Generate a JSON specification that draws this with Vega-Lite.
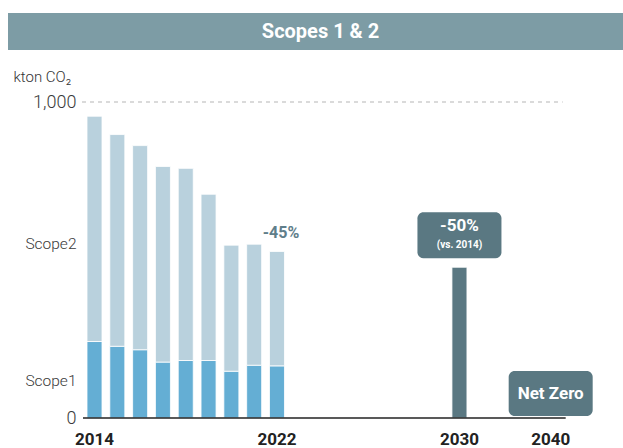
{
  "$schema": "https://vega.github.io/schema/vega-lite/v6.json",
  "background": "white",
  "padding": {"left": 8, "top": 13, "right": 0, "bottom": 0},
  "config": {"view": {"stroke": null}, "font": "Roboto"},
  "spacing": 19,
  "datasets": {
    "bars": [
      {"year": "2014", "scope": "Scope1", "value": 242},
      {"year": "2014", "scope": "Scope2", "value": 713},
      {"year": "2015", "scope": "Scope1", "value": 227},
      {"year": "2015", "scope": "Scope2", "value": 670},
      {"year": "2016", "scope": "Scope1", "value": 216},
      {"year": "2016", "scope": "Scope2", "value": 646},
      {"year": "2017", "scope": "Scope1", "value": 177},
      {"year": "2017", "scope": "Scope2", "value": 619},
      {"year": "2018", "scope": "Scope1", "value": 182},
      {"year": "2018", "scope": "Scope2", "value": 608},
      {"year": "2019", "scope": "Scope1", "value": 182},
      {"year": "2019", "scope": "Scope2", "value": 526},
      {"year": "2020", "scope": "Scope1", "value": 148},
      {"year": "2020", "scope": "Scope2", "value": 399},
      {"year": "2021", "scope": "Scope1", "value": 167},
      {"year": "2021", "scope": "Scope2", "value": 383},
      {"year": "2022", "scope": "Scope1", "value": 165},
      {"year": "2022", "scope": "Scope2", "value": 362},
      {"year": "2030", "scope": "Target", "value": 477},
      {"year": "2040", "scope": "Target", "value": 0}
    ],
    "notes": [
      {"year": "2022", "total": 527, "label": "-45%"},
      {"year": "2030", "total": 477, "label": "-50%", "sub": "(vs. 2014)"},
      {"year": "2040", "total": 0, "label": "Net Zero"}
    ],
    "lines": [
      {"from": "2014", "to": "2040", "level": 1000, "kind": "max"},
      {"from": "2014", "to": "2040", "level": 0, "kind": "base"}
    ]
  },
  "vconcat": [
    {
      "width": 615,
      "height": 37,
      "view": {"fill": "#7d9ca5", "stroke": null},
      "data": {"values": [{"t": "Scopes 1 & 2"}]},
      "mark": {"type": "text", "color": "white", "fontSize": 20, "fontWeight": "bold", "dx": 5, "baseline": "middle", "align": "center"},
      "encoding": {"text": {"field": "t"}}
    },
    {
      "width": 615,
      "height": 316,
      "encoding": {
        "x": {
          "field": "year", "type": "ordinal",
          "scale": {
            "domain": ["2014","2015","2016","2017","2018","2019","2020","2021","2022","2023","2024","2025","2026","2027","2028","2029","2030","gap1","gap2","gap3","2040"],
            "range": [75, 557],
            "paddingInner": 0.342, "paddingOuter": 0.237, "align": 0.37
          },
          "axis": {
            "title": null, "ticks": false, "domain": false,
            "labelAngle": 0, "labelFontSize": 17, "labelFontWeight": "bold", "labelColor": "#222",
            "labelPadding": 13,
            "labelExpr": "indexof(['2014','2022','2030','2040'], datum.value) >= 0 ? datum.value : ''"
          }
        }
      },
      "layer": [
        {
          "data": {"name": "lines"},
          "transform": [{"filter": "datum.kind == 'max'"}],
          "mark": {"type": "rule", "color": "#b5b5b5", "strokeDash": [4, 4], "strokeWidth": 1, "xOffset": -12.5, "x2Offset": 12},
          "encoding": {
            "x": {"field": "from", "type": "ordinal"},
            "x2": {"field": "to"},
            "y": {"field": "level", "type": "quantitative"}
          }
        },
        {
          "data": {"name": "bars"},
          "mark": {"type": "bar", "stroke": "white", "strokeWidth": 1, "strokeOpacity": 0.8},
          "encoding": {
            "y": {
              "field": "value", "type": "quantitative", "stack": "zero",
              "scale": {"domain": [0, 1000], "nice": false},
              "axis": {
                "offset": -75,
                "values": [0, 120, 553, 1000], "grid": false, "ticks": false, "domain": false,
                "labelPadding": 7, "labelColor": "#3a3a3a",
                "labelFontSize": {"condition": {"test": "datum.value == 120 || datum.value == 553", "value": 15.5}, "value": 18},
                "labelFontWeight": 300,
                "labelExpr": "datum.value == 0 ? '0' : datum.value == 1000 ? '1,000' : datum.value < 300 ? 'Scope1' : 'Scope2'",
                "title": "kton CO\u2082", "titleAngle": 0, "titleAlign": "left", "titleBaseline": "top",
                "titleX": -70, "titleY": -33, "titleFontSize": 15, "titleFontWeight": 300, "titleColor": "#333"
              }
            },
            "color": {
              "field": "scope", "type": "nominal",
              "scale": {"domain": ["Scope1", "Scope2", "Target"], "range": ["#64aed4", "#b9d1dd", "#5a7882"]},
              "legend": null
            },
            "order": {"field": "scope", "sort": "ascending"}
          }
        },
        {
          "data": {"name": "lines"},
          "transform": [{"filter": "datum.kind == 'base'"}],
          "mark": {"type": "rule", "color": "#222", "strokeWidth": 1.5, "xOffset": -11.5, "x2Offset": 15},
          "encoding": {
            "x": {"field": "from", "type": "ordinal"},
            "x2": {"field": "to"},
            "y": {"field": "level", "type": "quantitative"}
          }
        },
        {
          "data": {"name": "notes"},
          "transform": [{"filter": "datum.year == '2022'"}],
          "mark": {"type": "text", "fontSize": 16, "fontWeight": "bold", "color": "#5f7e8a", "baseline": "alphabetic", "dy": -13, "dx": 4},
          "encoding": {"y": {"field": "total", "type": "quantitative"}, "text": {"field": "label"}}
        },
        {
          "data": {"name": "notes"},
          "transform": [{"filter": "datum.year == '2030'"}],
          "mark": {"type": "bar", "width": 84, "color": "#5a7882", "cornerRadius": 6, "yOffset": -55, "y2Offset": -9},
          "encoding": {"y": {"field": "total", "type": "quantitative"}, "y2": {"field": "total"}}
        },
        {
          "data": {"name": "notes"},
          "transform": [{"filter": "datum.year == '2040'"}],
          "mark": {"type": "bar", "width": 84, "color": "#5a7882", "cornerRadius": 6, "yOffset": -47, "y2Offset": -2},
          "encoding": {"y": {"field": "total", "type": "quantitative"}, "y2": {"field": "total"}}
        },
        {
          "data": {"name": "notes"},
          "transform": [{"filter": "datum.year == '2030'"}],
          "mark": {"type": "text", "fontSize": 17, "fontWeight": "bold", "color": "white", "baseline": "middle", "dy": -41},
          "encoding": {"y": {"field": "total", "type": "quantitative"}, "text": {"field": "label"}}
        },
        {
          "data": {"name": "notes"},
          "transform": [{"filter": "datum.year == '2030'"}],
          "mark": {"type": "text", "fontSize": 10, "fontWeight": "bold", "color": "white", "baseline": "middle", "dy": -22},
          "encoding": {"y": {"field": "total", "type": "quantitative"}, "text": {"field": "sub"}}
        },
        {
          "data": {"name": "notes"},
          "transform": [{"filter": "datum.year == '2040'"}],
          "mark": {"type": "text", "fontSize": 17, "fontWeight": "bold", "color": "white", "baseline": "middle", "dy": -24},
          "encoding": {"y": {"field": "total", "type": "quantitative"}, "text": {"field": "label"}}
        }
      ]
    }
  ]
}
